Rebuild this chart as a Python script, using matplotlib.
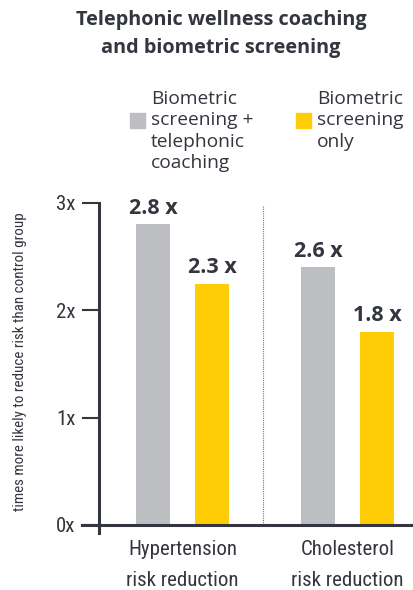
import matplotlib
matplotlib.use("Agg")
import matplotlib.pyplot as plt
from matplotlib.patches import Rectangle

# data
groups = ["Hypertension\nrisk reduction", "Cholesterol\nrisk reduction"]
series_names = ["Biometric\nscreening +\ntelephonic\ncoaching", "Biometric\nscreening\nonly"]
coaching_vals = [2.8, 2.4]
coaching_labels = ["2.8 x", "2.6 x"]
screening_vals = [2.25, 1.8]
screening_labels = ["2.3 x", "1.8 x"]
yticks = [0, 1, 2, 3]
ytick_labels = ["0x", "1x", "2x", "3x"]

gray = "#bdbec2"
yellow = "#ffcd05"
dark = "#33363f"
W, H = 413, 590

narrow = ["Roboto Condensed", "Liberation Sans Narrow", "Roboto", "DejaVu Sans"]
sans = ["Open Sans", "DejaVu Sans"]

fig = plt.figure(figsize=(W / 100, H / 100), dpi=100)
ax = fig.add_axes([99 / W, 65 / H, 314 / W, 322 / H])

xs = [0, 1]
off = 0.179
bw = 0.21
b1 = ax.bar([x - off for x in xs], coaching_vals, bw, color=gray)
b2 = ax.bar([x + off for x in xs], screening_vals, bw, color=yellow)

for bars, labs in ((b1, coaching_labels), (b2, screening_labels)):
    for b, lab in zip(bars, labs):
        ax.annotate(lab, (b.get_x() + b.get_width() / 2, b.get_height()),
                    xytext=(0, 4), textcoords="offset points", ha="center", va="bottom",
                    fontsize=15.5, fontweight="bold", color=dark, family=sans)

ax.set_xlim(-0.506, 1.397)
ax.set_ylim(0, 3)
ax.axvline(0.488, ymax=0.99, color="#777777", lw=0.8, ls=(0, (1, 1)))

for s in ax.spines.values():
    s.set_visible(False)
ax.plot([0, 0], [-8 / 322, 1], transform=ax.transAxes, color=dark, lw=2.2, clip_on=False)
ax.plot([-17 / 314, 1], [0, 0], transform=ax.transAxes, color=dark, lw=2.2, clip_on=False)

ax.set_yticks(yticks)
ax.set_yticklabels(ytick_labels, family=narrow, fontsize=15, color=dark)
ax.tick_params(axis="y", length=12, width=1.5, color=dark, pad=5)
ax.set_xticks(xs)
ax.set_xticklabels(groups, family=narrow, fontsize=15, color=dark, linespacing=1.75)
ax.tick_params(axis="x", length=0, pad=11)

fig.text(20 / W, 1 - 362 / H, "times more likely to reduce risk than control group",
         rotation=90, ha="center", va="center", family=narrow, fontsize=10.8, color=dark)

fig.text(221 / W, 1 - 34 / H, "Telephonic wellness coaching\nand biometric screening",
         ha="center", va="center", family=sans, fontsize=14.3, fontweight="bold",
         color=dark, linespacing=1.55)

# legend
fig.patches.append(Rectangle((130 / W, 1 - 128 / H), 15 / W, 15 / H, color=gray,
                             transform=fig.transFigure, figure=fig))
fig.patches.append(Rectangle((296 / W, 1 - 128 / H), 15 / W, 15 / H, color=yellow,
                             transform=fig.transFigure, figure=fig))
fig.text(151 / W, 1 - 90 / H, series_names[0], ha="left", va="top", family=sans,
         fontsize=13.8, color=dark, linespacing=1.24)
fig.text(317 / W, 1 - 90 / H, series_names[1], ha="left", va="top", family=sans,
         fontsize=13.8, color=dark, linespacing=1.24)

fig.savefig("out.png", dpi=100)
